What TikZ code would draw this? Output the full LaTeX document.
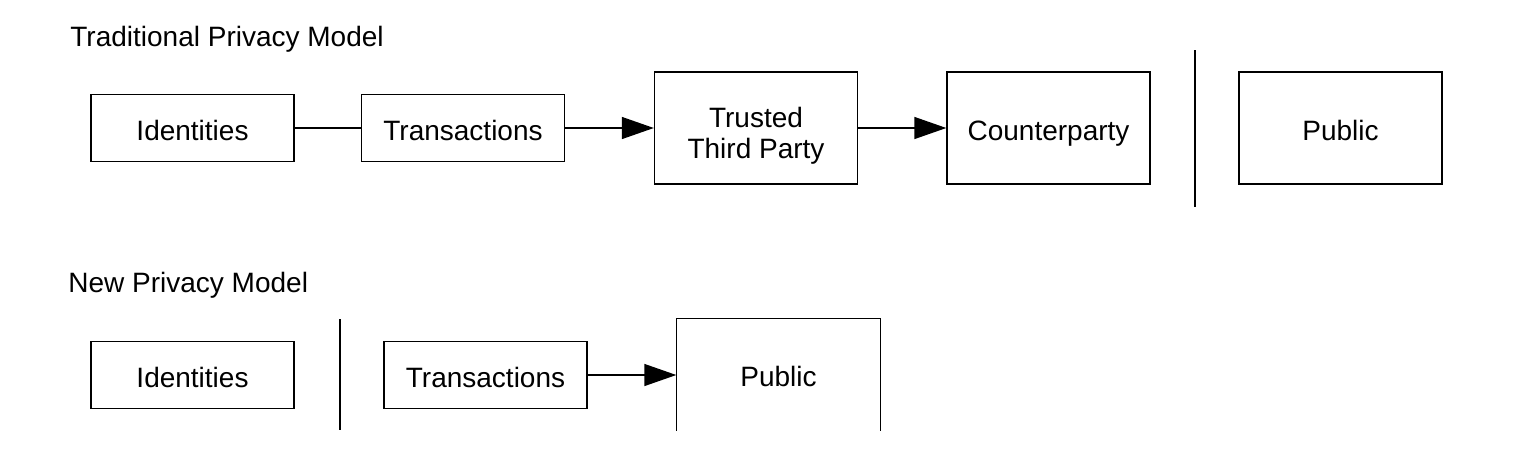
\documentclass[tikz,border=0pt]{standalone}
\usepackage{fontspec}
\setmainfont{Liberation Sans}
\usetikzlibrary{arrows.meta}
\begin{document}
\begin{tikzpicture}[x=0.5pt,y=-0.5pt,
  every node/.style={font=\fontsize{14}{15.5}\selectfont},
  box/.style={draw,line width=0.7pt,minimum width=101.5pt,minimum height=33.5pt,inner sep=0pt,align=center,text height=12pt,text depth=0pt},
  bigbox/.style={box,minimum height=56pt},
  conn/.style={line width=0.7pt},
  arr/.style={conn,-{Triangle[length=16pt,width=11pt]}},
  title/.style={anchor=base west,inner sep=0pt}]
\useasboundingbox (0,0) rectangle (1518,462);
% top
\node[title] (t1) at (70,46) {Traditional Privacy Model};
\node[box] (id1) at (192.5,128) {Identities};
\node[box] (tx1) at (463,128) {Transactions};
\node[bigbox,text height=30pt] (ttp) at (756,128) {Trusted\\Third Party};
\node[bigbox] (cp) at (1048.5,128) {Counterparty};
\node[bigbox] (pub1) at (1340.5,128) {Public};
\coordinate (v1a) at (1195,50);
\coordinate (v1b) at (1195,207);
\draw[conn] (id1) -- (tx1);
\draw[arr] (tx1) -- (ttp);
\draw[arr] (ttp) -- (cp);
\draw[conn] (v1a) -- (v1b);
% bottom
\node[title] (t2) at (68,292) {New Privacy Model};
\node[box] (id2) at (192.5,375) {Identities};
\node[box] (tx2) at (485.5,375) {Transactions};
\node[box,draw=none,minimum height=55.5pt] (pub2) at (778.5,374.5) {Public};
\draw[conn] (pub2.south west) -- (pub2.north west) -- (pub2.north east) -- (pub2.south east);
\coordinate (v2a) at (340,319);
\coordinate (v2b) at (340,430);
\draw[conn] (v2a) -- (v2b);
\draw[arr] (tx2) -- (tx2 -| pub2.west);
\end{tikzpicture}
\end{document}
